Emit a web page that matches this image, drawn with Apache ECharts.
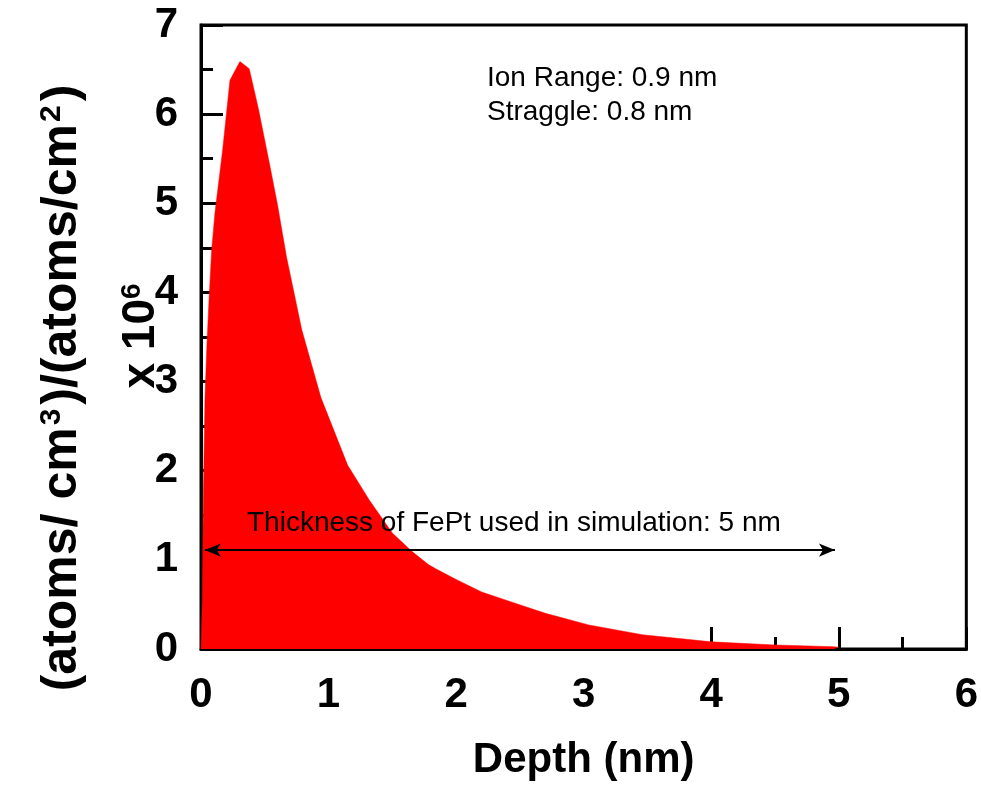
<!DOCTYPE html>
<html>
<head>
<meta charset="utf-8">
<script src="https://cdn.jsdelivr.net/npm/echarts@6/dist/echarts.min.js"></script>
<style>
html,body{margin:0;padding:0;background:#fff;}
#chart{width:981px;height:789px;}
</style>
</head>
<body>
<div id="chart"></div>
<script>
// Depth (nm)
var depth = [0, 0.01, 0.018, 0.031, 0.045, 0.063, 0.084, 0.11, 0.17, 0.227, 0.305, 0.378, 0.45, 0.54, 0.6, 0.67, 0.79, 0.94, 1.15, 1.32, 1.5, 1.65, 1.78, 1.84, 2.0, 2.2, 2.45, 2.7, 3.04, 3.46, 4.0, 4.5, 4.96, 5.0];
// Concentration (x 10^6)
var conc = [0, 0.55, 1.67, 2.8, 3.36, 3.92, 4.48, 4.9, 5.6, 6.38, 6.59, 6.51, 6.06, 5.42, 4.98, 4.4, 3.58, 2.82, 2.06, 1.67, 1.3, 1.1, 0.95, 0.9, 0.78, 0.64, 0.52, 0.4, 0.27, 0.16, 0.08, 0.045, 0.026, 0.02];
var xTicks = [0, 1, 2, 3, 4, 5, 6];
var yTicks = [0, 1, 2, 3, 4, 5, 6, 7];
var arrowStart = [0.03, 1.11];
var arrowEnd = [4.97, 1.11];
var thicknessText = 'Thickness of FePt used in simulation: 5 nm';
var rangeText = 'Ion Range: 0.9 nm';
var straggleText = 'Straggle: 0.8 nm';

var FONT = '"Liberation Sans", Arial, sans-serif';
var chart = echarts.init(document.getElementById('chart'));
var seriesData = depth.map(function (d, i) { return [d, conc[i]]; });

chart.setOption({
  animation: false,
  backgroundColor: '#ffffff',
  grid: {
    left: 201, right: 13, top: 25, bottom: 140,
    show: true, borderColor: '#000', borderWidth: 3, backgroundColor: 'transparent'
  },
  xAxis: {
    type: 'value', min: xTicks[0], max: xTicks[xTicks.length - 1], interval: 1,
    name: 'Depth (nm)', nameLocation: 'middle', nameGap: 90,
    nameTextStyle: { fontFamily: FONT, fontWeight: 'bold', fontSize: 42, color: '#000' },
    axisLine: { show: true, lineStyle: { color: '#000', width: 3 } },
    axisTick: { show: true, inside: true, length: 22, lineStyle: { color: '#000', width: 3 } },
    minorTick: { show: true, splitNumber: 2, length: 12, lineStyle: { color: '#000', width: 3 } },
    splitLine: { show: false },
    axisLabel: { fontFamily: FONT, fontWeight: 'bold', fontSize: 42, color: '#000', margin: 25 }
  },
  yAxis: {
    type: 'value', min: yTicks[0], max: yTicks[yTicks.length - 1], interval: 1,
    axisLine: { show: true, lineStyle: { color: '#000', width: 3 } },
    axisTick: { show: true, inside: true, length: 22, lineStyle: { color: '#000', width: 3 } },
    minorTick: { show: true, splitNumber: 2, length: 12, lineStyle: { color: '#000', width: 3 } },
    splitLine: { show: false },
    axisLabel: { fontFamily: FONT, fontWeight: 'bold', fontSize: 42, color: '#000', margin: 23 }
  },
  series: [{
    type: 'line',
    data: seriesData,
    showSymbol: false,
    smooth: false,
    lineStyle: { color: '#ff0000', width: 0.5 },
    areaStyle: { color: '#ff0000', opacity: 1, origin: 'start' },
    itemStyle: { color: '#ff0000' },
    markLine: {
      silent: true,
      symbol: ['arrow', 'arrow'],
      symbolSize: [10, 16],
      lineStyle: { color: '#000', width: 2, type: 'solid' },
      label: { show: false },
      data: [[{ coord: arrowStart }, { coord: arrowEnd }]]
    }
  }],
  graphic: [
    {
      type: 'text', x: 62, y: 388, rotation: Math.PI / 2, z: 100,
      style: {
        text: '{b|(atoms/ cm}{s|3}{b|)/(atoms/cm}{s|2}{b|)}',
        align: 'center', verticalAlign: 'middle',
        rich: {
          b: { fontFamily: FONT, fontWeight: 'bold', fontSize: 50, fill: '#000', verticalAlign: 'bottom' },
          s: { fontFamily: FONT, fontWeight: 'bold', fontSize: 30, fill: '#000', verticalAlign: 'top', padding: [0, 4, 0, 2] }
        }
      }
    },
    {
      type: 'text', x: 141, y: 336, rotation: Math.PI / 2, z: 100,
      style: {
        text: '{b|x 10}{s|6}',
        align: 'center', verticalAlign: 'middle',
        rich: {
          b: { fontFamily: FONT, fontWeight: 'bold', fontSize: 46, fill: '#000', verticalAlign: 'bottom' },
          s: { fontFamily: FONT, fontWeight: 'bold', fontSize: 28, fill: '#000', verticalAlign: 'top' }
        }
      }
    },
    {
      type: 'text', x: 487, y: 78, z: 100,
      style: { text: rangeText, font: '28px ' + FONT, fill: '#000', verticalAlign: 'middle' }
    },
    {
      type: 'text', x: 487, y: 112, z: 100,
      style: { text: straggleText, font: '28px ' + FONT, fill: '#000', verticalAlign: 'middle' }
    },
    {
      type: 'text', x: 247, y: 523, z: 100,
      style: { text: thicknessText, font: '28px ' + FONT, fill: '#000', verticalAlign: 'middle' }
    }
  ]
});
</script>
</body>
</html>
